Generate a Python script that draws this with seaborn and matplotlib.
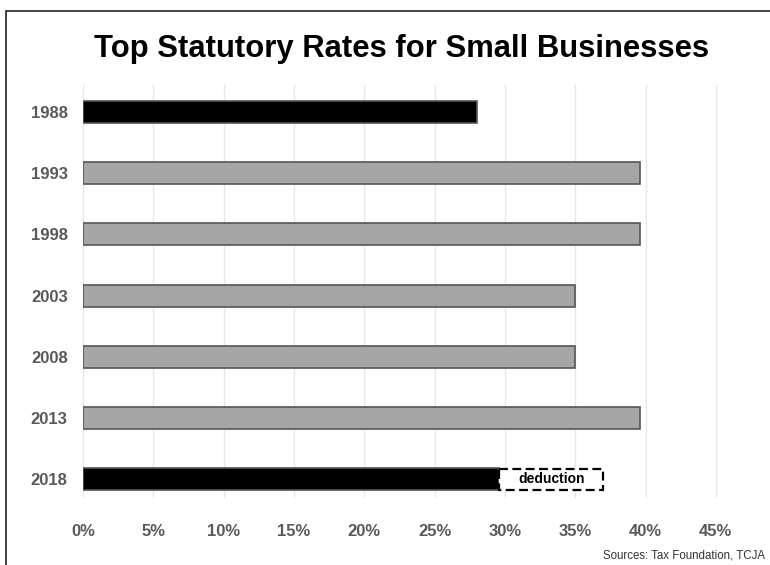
import matplotlib
matplotlib.use("Agg")
import matplotlib.pyplot as plt
import seaborn as sns
import pandas as pd
from matplotlib.patches import Rectangle

years = ["1988", "1993", "1998", "2003", "2008", "2013", "2018"]
rates = [28.0, 39.6, 39.6, 35.0, 35.0, 39.6, 29.6]
bar_colors = ["#000000", "#a6a6a6", "#a6a6a6", "#a6a6a6", "#a6a6a6", "#a6a6a6", "#000000"]
deduction_year = "2018"
deduction_from = 29.6
deduction_to = 37.0
deduction_label = "deduction"
xticks = [0, 5, 10, 15, 20, 25, 30, 35, 40, 45]
xtick_labels = ["0%", "5%", "10%", "15%", "20%", "25%", "30%", "35%", "40%", "45%"]
title = "Top Statutory Rates for Small Businesses"
source = "Sources: Tax Foundation, TCJA"

sns.set_theme(style="white")
plt.rcParams["font.family"] = ["Liberation Sans", "DejaVu Sans"]

df = pd.DataFrame({"year": years, "rate": rates})
pal = dict(zip(years, bar_colors))

fig = plt.figure(figsize=(7.7, 5.65), dpi=100)
ax = fig.add_axes([83 / 770, 1 - 497.5 / 565, 661 / 770, 413 / 565])

sns.barplot(data=df, y="year", x="rate", hue="year", palette=pal, legend=False,
            orient="h", width=0.36, ax=ax, edgecolor="#555555", linewidth=1.2,
            saturation=1)

# deduction segment
yi = years.index(deduction_year)
ax.barh([yi], [deduction_to - deduction_from], left=[deduction_from], height=0.34,
        color="white", edgecolor="black", linestyle=(0, (4, 2)), linewidth=1.6, zorder=3)
ax.text((deduction_from + deduction_to) / 2, yi, deduction_label, ha="center", va="center",
        fontsize=10, fontweight="bold", color="black", zorder=4)

ax.set_xlim(0, 47)
ax.set_ylim(6.3, -0.45)
ax.set_xticks(xticks)
ax.set_xticklabels(xtick_labels)
ax.grid(axis="x", color="#e8e8e8", linewidth=1.0)
ax.set_axisbelow(True)
for s in ax.spines.values():
    s.set_visible(False)
ax.set_xlabel("")
ax.set_ylabel("")
ax.tick_params(axis="x", length=0, pad=19, labelsize=12, labelcolor="#595959")
ax.tick_params(axis="y", length=0, pad=11, labelsize=12, labelcolor="#595959")
for lab in ax.get_xticklabels() + ax.get_yticklabels():
    lab.set_fontweight("bold")

fig.text(401.5 / 770, 1 - 57 / 565, title, ha="center", va="baseline", fontsize=22.3,
         fontweight="bold", color="black")
fig.text(1 - 5 / 770, 1 - 556 / 565, source, ha="right", va="center", fontsize=8.3,
         color="#333333")

# figure frame (partially cropped)
fig.patches.append(Rectangle((6 / 770, -0.1), 1.2, (565 - 11) / 565 + 0.1,
                             transform=fig.transFigure, fill=False,
                             edgecolor="#222222", linewidth=1.2))

fig.savefig("out.png", dpi=100)
